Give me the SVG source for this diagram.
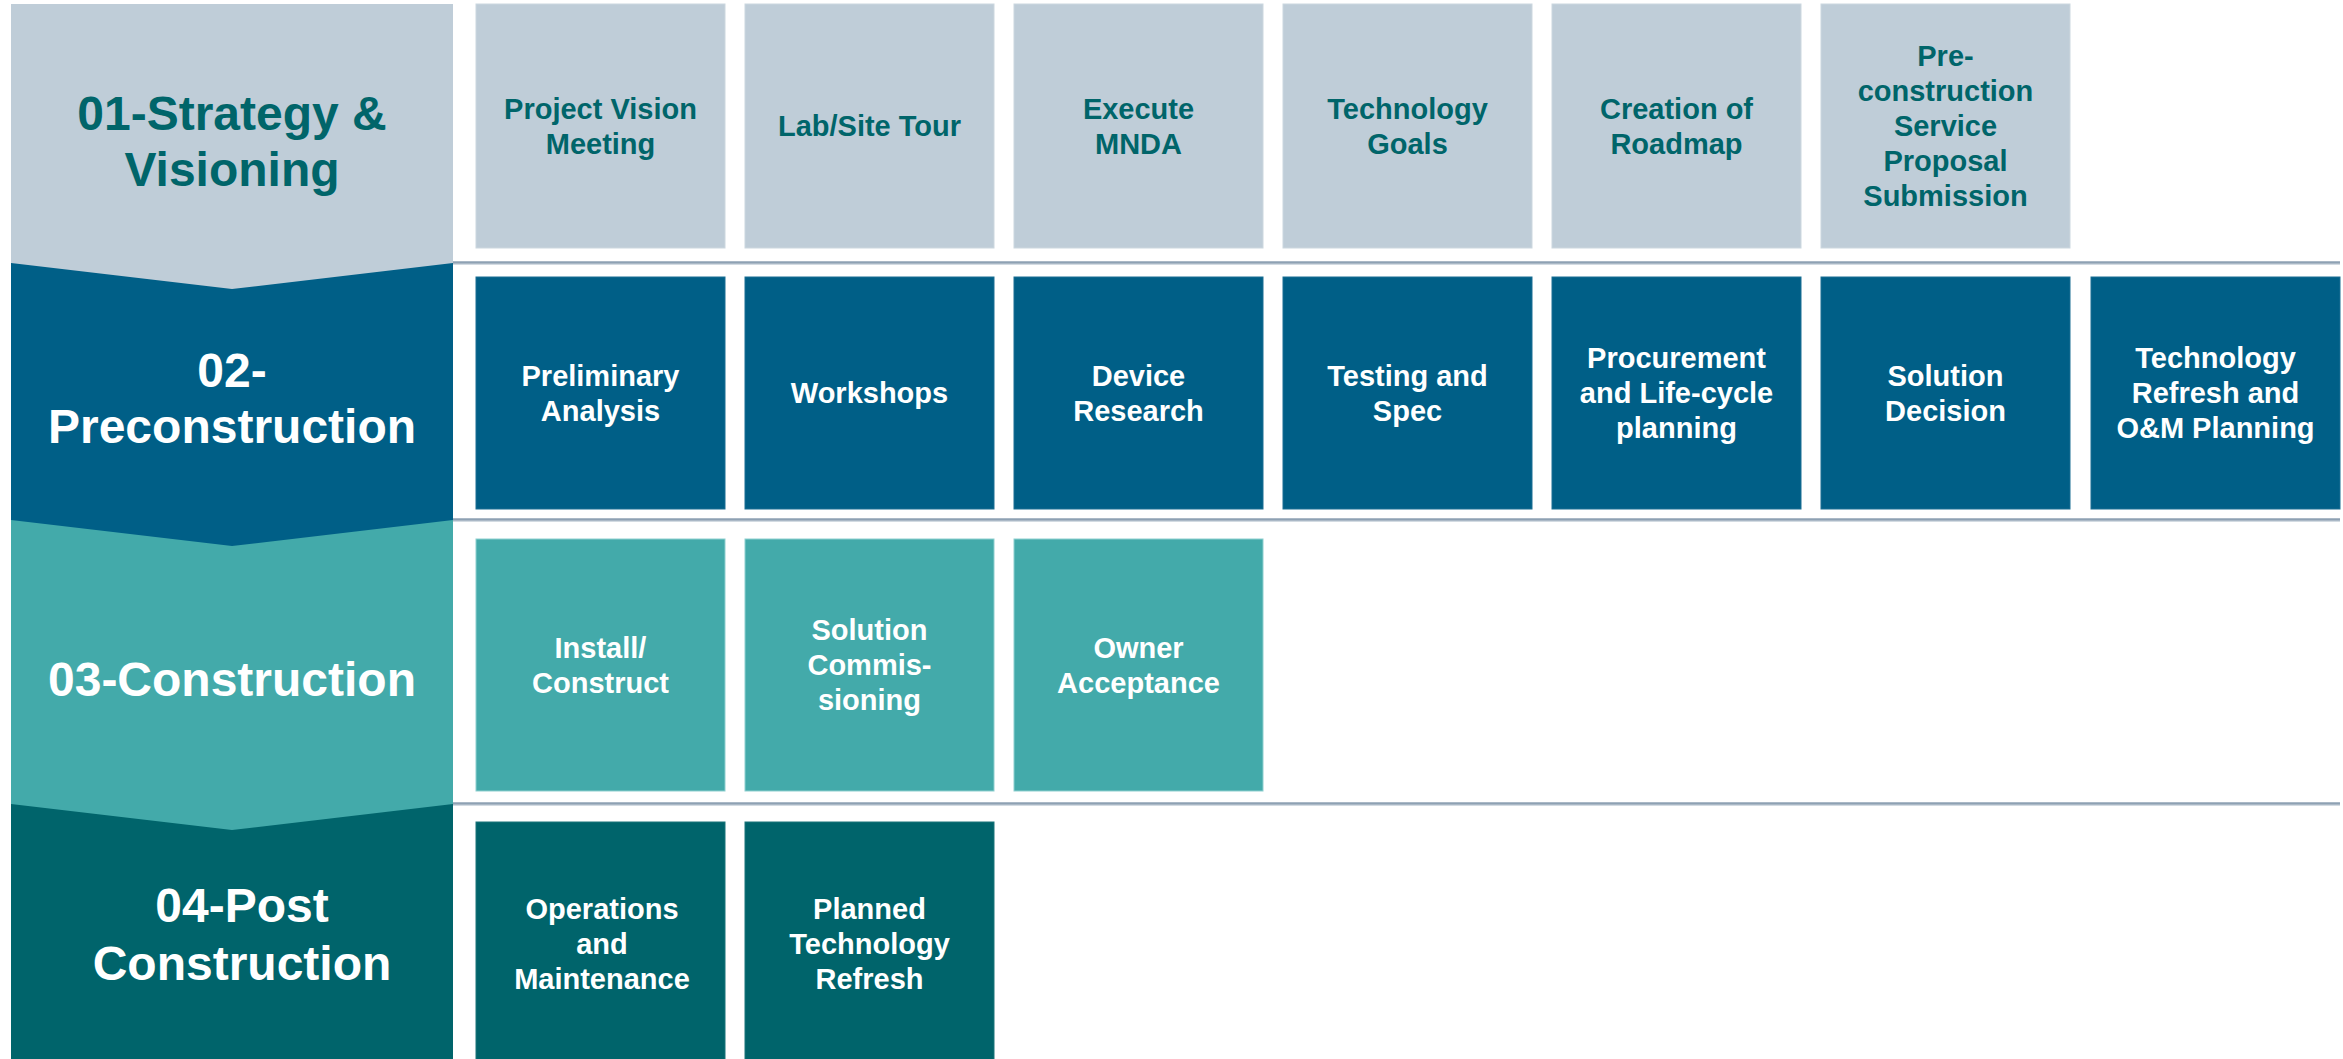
<svg xmlns="http://www.w3.org/2000/svg" width="2343" height="1059" viewBox="0 0 2343 1059">
<style>
.ph{font-family:"Liberation Sans",Arial,sans-serif;font-weight:bold;font-size:48px;text-anchor:middle}
.bt{font-family:"Liberation Sans",Arial,sans-serif;font-weight:bold;font-size:29px;text-anchor:middle}
.c1{fill:#BFCDD8}
.c2{fill:#005F87}
.c3{fill:#43AAAA}
.c4{fill:#00646B}
.t1{fill:#00656A}
.tw{fill:#FFFFFF}
.box{stroke-width:1}
.b1{stroke:#CCD7DF}
.b2{stroke:#1A6F93}
.b3{stroke:#8ECFCF}
.b4{stroke:#1A747A}
.sep{stroke:#8EA1B3;stroke-width:2.5}
.sep2{stroke:#D3DBE2;stroke-width:1}
</style>
<rect width="2343" height="1059" fill="#FFFFFF"/>

<g id="separators">
<line class="sep" x1="453" y1="262.5" x2="2340" y2="262.5"/>
<line class="sep2" x1="453" y1="264.5" x2="2340" y2="264.5"/>
<line class="sep" x1="453" y1="519.5" x2="2340" y2="519.5"/>
<line class="sep2" x1="453" y1="521.5" x2="2340" y2="521.5"/>
<line class="sep" x1="453" y1="803.5" x2="2340" y2="803.5"/>
<line class="sep2" x1="453" y1="805.5" x2="2340" y2="805.5"/>
</g>

<g id="phase4">
<rect class="c4" x="11" y="803" width="442" height="256"/>
<text class="ph tw" x="242"><tspan x="242" y="922">04-Post</tspan><tspan x="242" y="980">Construction</tspan></text>
</g>
<g id="phase3">
<polygon class="c3" points="11,519 453,519 453,804 232,830 11,804"/>
<text class="ph tw" x="232" y="696">03-Construction</text>
</g>
<g id="phase2">
<polygon class="c2" points="11,262 453,262 453,520 232,546 11,520"/>
<text class="ph tw" x="232"><tspan x="232" y="387">02-</tspan><tspan x="232" y="443">Preconstruction</tspan></text>
</g>
<g id="phase1">
<polygon class="c1" points="11,4 453,4 453,263 232,289 11,263"/>
<text class="ph t1" x="232"><tspan x="232" y="130">01-Strategy &amp;</tspan><tspan x="232" y="186">Visioning</tspan></text>
</g>

<!-- Row 1 -->
<g id="r1c1"><rect class="c1 box b1" x="476" y="4" width="249" height="244"/>
<text class="bt t1"><tspan x="600.5" y="119">Project Vision</tspan><tspan x="600.5" y="154">Meeting</tspan></text></g>
<g id="r1c2"><rect class="c1 box b1" x="745" y="4" width="249" height="244"/>
<text class="bt t1"><tspan x="869.5" y="136">Lab/Site Tour</tspan></text></g>
<g id="r1c3"><rect class="c1 box b1" x="1014" y="4" width="249" height="244"/>
<text class="bt t1"><tspan x="1138.5" y="119">Execute</tspan><tspan x="1138.5" y="154">MNDA</tspan></text></g>
<g id="r1c4"><rect class="c1 box b1" x="1283" y="4" width="249" height="244"/>
<text class="bt t1"><tspan x="1407.5" y="119">Technology</tspan><tspan x="1407.5" y="154">Goals</tspan></text></g>
<g id="r1c5"><rect class="c1 box b1" x="1552" y="4" width="249" height="244"/>
<text class="bt t1"><tspan x="1676.5" y="119">Creation of</tspan><tspan x="1676.5" y="154">Roadmap</tspan></text></g>
<g id="r1c6"><rect class="c1 box b1" x="1821" y="4" width="249" height="244"/>
<text class="bt t1"><tspan x="1945.5" y="66">Pre-</tspan><tspan x="1945.5" y="101">construction</tspan><tspan x="1945.5" y="136">Service</tspan><tspan x="1945.5" y="171">Proposal</tspan><tspan x="1945.5" y="206">Submission</tspan></text></g>

<!-- Row 2 -->
<g id="r2c1"><rect class="c2 box b2" x="476" y="277" width="249" height="232"/>
<text class="bt tw"><tspan x="600.5" y="385.5">Preliminary</tspan><tspan x="600.5" y="420.5">Analysis</tspan></text></g>
<g id="r2c2"><rect class="c2 box b2" x="745" y="277" width="249" height="232"/>
<text class="bt tw"><tspan x="869.5" y="403">Workshops</tspan></text></g>
<g id="r2c3"><rect class="c2 box b2" x="1014" y="277" width="249" height="232"/>
<text class="bt tw"><tspan x="1138.5" y="385.5">Device</tspan><tspan x="1138.5" y="420.5">Research</tspan></text></g>
<g id="r2c4"><rect class="c2 box b2" x="1283" y="277" width="249" height="232"/>
<text class="bt tw"><tspan x="1407.5" y="385.5">Testing and</tspan><tspan x="1407.5" y="420.5">Spec</tspan></text></g>
<g id="r2c5"><rect class="c2 box b2" x="1552" y="277" width="249" height="232"/>
<text class="bt tw"><tspan x="1676.5" y="368">Procurement</tspan><tspan x="1676.5" y="403">and Life-cycle</tspan><tspan x="1676.5" y="438">planning</tspan></text></g>
<g id="r2c6"><rect class="c2 box b2" x="1821" y="277" width="249" height="232"/>
<text class="bt tw"><tspan x="1945.5" y="385.5">Solution</tspan><tspan x="1945.5" y="420.5">Decision</tspan></text></g>
<g id="r2c7"><rect class="c2 box b2" x="2091" y="277" width="249" height="232"/>
<text class="bt tw"><tspan x="2215.5" y="368">Technology</tspan><tspan x="2215.5" y="403">Refresh and</tspan><tspan x="2215.5" y="438">O&amp;M Planning</tspan></text></g>

<!-- Row 3 -->
<g id="r3c1"><rect class="c3 box b3" x="476" y="539" width="249" height="252"/>
<text class="bt tw"><tspan x="600.5" y="657.5">Install/</tspan><tspan x="600.5" y="692.5">Construct</tspan></text></g>
<g id="r3c2"><rect class="c3 box b3" x="745" y="539" width="249" height="252"/>
<text class="bt tw"><tspan x="869.5" y="640">Solution</tspan><tspan x="869.5" y="675">Commis-</tspan><tspan x="869.5" y="710">sioning</tspan></text></g>
<g id="r3c3"><rect class="c3 box b3" x="1014" y="539" width="249" height="252"/>
<text class="bt tw"><tspan x="1138.5" y="657.5">Owner</tspan><tspan x="1138.5" y="692.5">Acceptance</tspan></text></g>

<!-- Row 4 -->
<g id="r4c1"><rect class="c4 box b4" x="476" y="822" width="249" height="240"/>
<text class="bt tw"><tspan x="602" y="919">Operations</tspan><tspan x="602" y="954">and</tspan><tspan x="602" y="989">Maintenance</tspan></text></g>
<g id="r4c2"><rect class="c4 box b4" x="745" y="822" width="249" height="240"/>
<text class="bt tw"><tspan x="869.5" y="919">Planned</tspan><tspan x="869.5" y="954">Technology</tspan><tspan x="869.5" y="989">Refresh</tspan></text></g>
</svg>
